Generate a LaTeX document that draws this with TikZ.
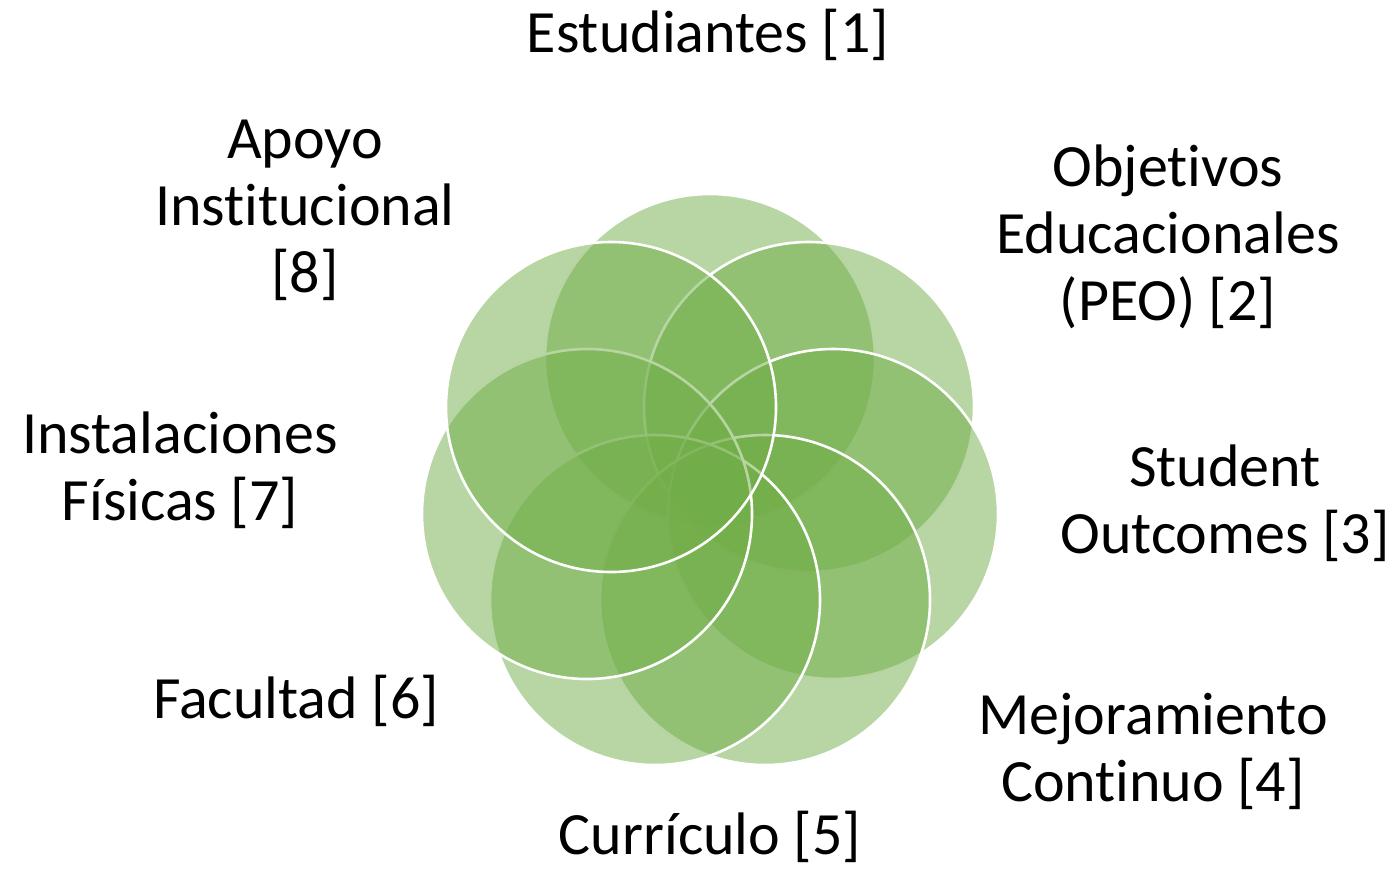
\documentclass[tikz,border=0pt]{standalone}
\usepackage{fontspec}
\setmainfont{Carlito}[Ligatures=NoCommon]
\usepackage{tikz}
\definecolor{leafgreen}{HTML}{70AD47}
\tikzstyle{petal} = [circle, minimum size=165pt, inner sep=0pt, outer sep=0pt, fill=leafgreen, fill opacity=0.5, draw=white, line width=1.3pt]
\tikzstyle{caption} = [align=center, inner sep=0pt, font=\fontsize{30}{33.5}\selectfont]

\begin{document}
\begin{tikzpicture}[x=0.5pt, y=-0.5pt]
\useasboundingbox (0,0) rectangle (1399,869);
% circles, drawn clockwise from the top
\node (p1) [petal] at (710,359) {};
\node (p2) [petal] at (809,407) {};
\node (p3) [petal] at (833,514) {};
\node (p4) [petal] at (765,600) {};
\node (p5) [petal] at (655,600) {};
\node (p6) [petal] at (587,514) {};
\node (p7) [petal] at (611,407) {};

\node (estud) [caption] at (708,35) {Estudiantes [1]};
\node (peo) [caption] at (1168,237) {Objetivos\\Educacionales\\(PEO) [2]};
\node (outc) [caption] at (1225,503) {Student\\Outcomes [3]};
\node (mejora) [caption] at (1153,751) {Mejoramiento\\Continuo [4]};
\node (curric) [caption] at (710,837) {Currículo [5]};
\node (facul) [caption] at (296,701) {Facultad [6]};
\node (instal) [caption] at (180,470) {Instalaciones\\Físicas [7]};
\node (apoyo) [caption] at (305,210) {Apoyo\\Institucional\\{[8]}};
\end{tikzpicture}
\end{document}
